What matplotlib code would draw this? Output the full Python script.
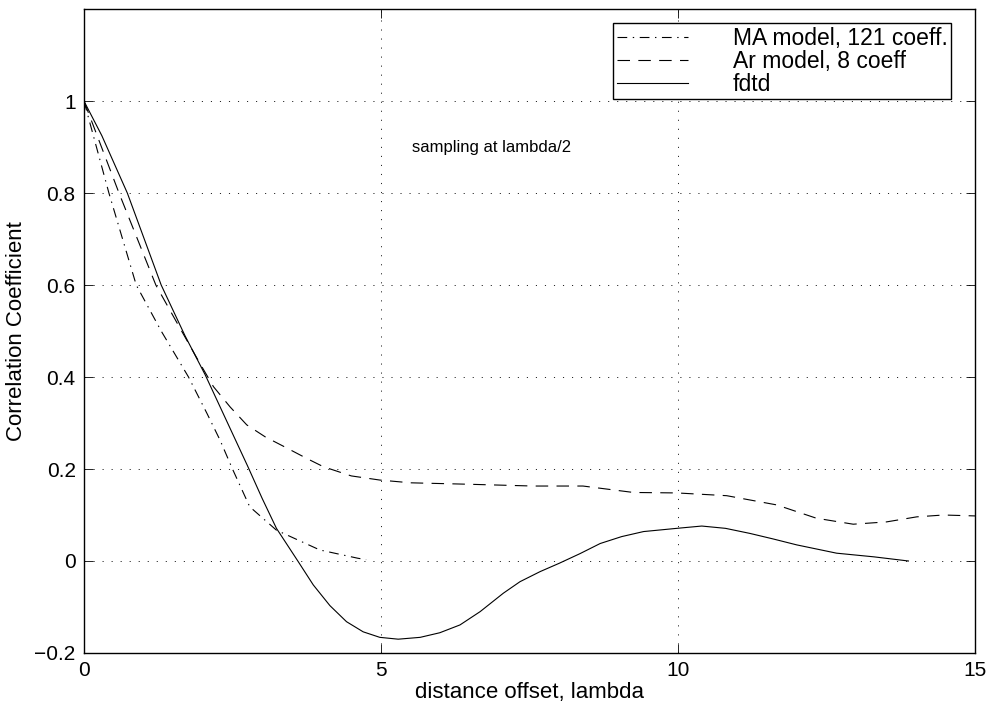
import matplotlib
matplotlib.use("Agg")
import matplotlib.pyplot as plt

plt.rcParams["font.family"] = ["Liberation Sans", "DejaVu Sans"]
plt.rcParams["lines.scale_dashes"] = False

# values
fdtd_x = [0, 0.3, 0.73, 1.3, 1.7, 2.04, 2.4, 2.76, 3.0, 3.24, 3.6, 3.86, 4.14, 4.42, 4.7,
          4.98, 5.29, 5.66, 5.99, 6.33, 6.67, 7.06, 7.34, 7.68, 8.0, 8.35, 8.69, 9.05,
          9.42, 9.98, 10.4, 10.8, 11.21, 11.6, 12.0, 12.67, 13.3, 13.88]
fdtd_y = [1.0, 0.925, 0.8, 0.6, 0.49, 0.405, 0.305, 0.205, 0.136, 0.071, 0.0, -0.052, -0.097,
          -0.132, -0.154, -0.166, -0.17, -0.166, -0.156, -0.139, -0.110, -0.070, -0.045,
          -0.023, -0.005, 0.016, 0.038, 0.053, 0.064, 0.071, 0.076, 0.071, 0.06, 0.048,
          0.035, 0.017, 0.009, 0.0]

ar_x = [0, 0.59, 1.21, 1.6, 1.95, 2.18, 2.46, 2.74, 3.05, 3.38, 3.75, 4.03, 4.5, 4.98, 5.5,
        6.44, 7.56, 8.4, 9.25, 9.98, 10.82, 11.66, 12.33, 12.95, 13.51, 14.02, 14.47, 15.0]
ar_y = [1.0, 0.8, 0.6, 0.51, 0.43, 0.379, 0.335, 0.296, 0.27, 0.248, 0.223, 0.205, 0.185, 0.176,
        0.17, 0.167, 0.163, 0.163, 0.149, 0.148, 0.142, 0.122, 0.093, 0.080, 0.085, 0.096,
        0.10, 0.098]

ma_x = [0, 0.42, 0.88, 1.3, 1.76, 2.07, 2.29, 2.5, 2.79, 3.24, 3.97, 4.61, 4.75]
ma_y = [1.0, 0.8, 0.6, 0.5, 0.4, 0.321, 0.263, 0.2, 0.118, 0.067, 0.024, 0.006, 0.003]

xticks = [0, 5, 10, 15]
xtick_labels = ["0", "5", "10", "15"]
yticks = [-0.2, 0, 0.2, 0.4, 0.6, 0.8, 1.0]
ytick_labels = ["\u22120.2", "0", "0.2", "0.4", "0.6", "0.8", "1"]

fig = plt.figure(figsize=(9.95, 7.06), dpi=100)
ax = fig.add_axes([0.0844, 0.0751, 0.8955, 0.912])

ax.plot(ma_x, ma_y, color="black", lw=0.8, linestyle=(0, (7, 4, 1, 4)),
        label="MA model, 121 coeff.")
ax.plot(ar_x, ar_y, color="black", lw=0.8, linestyle=(0, (9, 6)),
        label="Ar model, 8 coeff")
ax.plot(fdtd_x, fdtd_y, color="black", lw=0.8, label="fdtd")

ax.set_xlim(0, 15)
ax.set_ylim(-0.2, 1.2)
ax.set_xticks(xticks)
ax.set_xticklabels(xtick_labels)
ax.set_yticks(yticks)
ax.set_yticklabels(ytick_labels)
ax.tick_params(direction="in", length=6.5, width=0.6, top=True, right=True,
               labelsize=15, pad=6)
ax.grid(True, color="black", lw=0.6, linestyle=(0, (0.8, 5.7)))
for s in ax.spines.values():
    s.set_linewidth(1.0)

ax.set_xlabel("distance offset, lambda", fontsize=16, labelpad=1)
ax.set_ylabel("Correlation Coefficient", fontsize=16, labelpad=5)

ax.text(5.52, 0.9, "sampling at lambda/2", fontsize=12, ha="left", va="center")

leg = ax.legend(loc="upper right", bbox_to_anchor=(0.973, 0.978), borderaxespad=0,
                fontsize=16.5, fancybox=False, framealpha=1, edgecolor="black",
                handlelength=3.1, handletextpad=1.95, labelspacing=0.0,
                borderpad=0.15)
leg.get_frame().set_linewidth(1.0)

fig.savefig("out.png", dpi=100)
